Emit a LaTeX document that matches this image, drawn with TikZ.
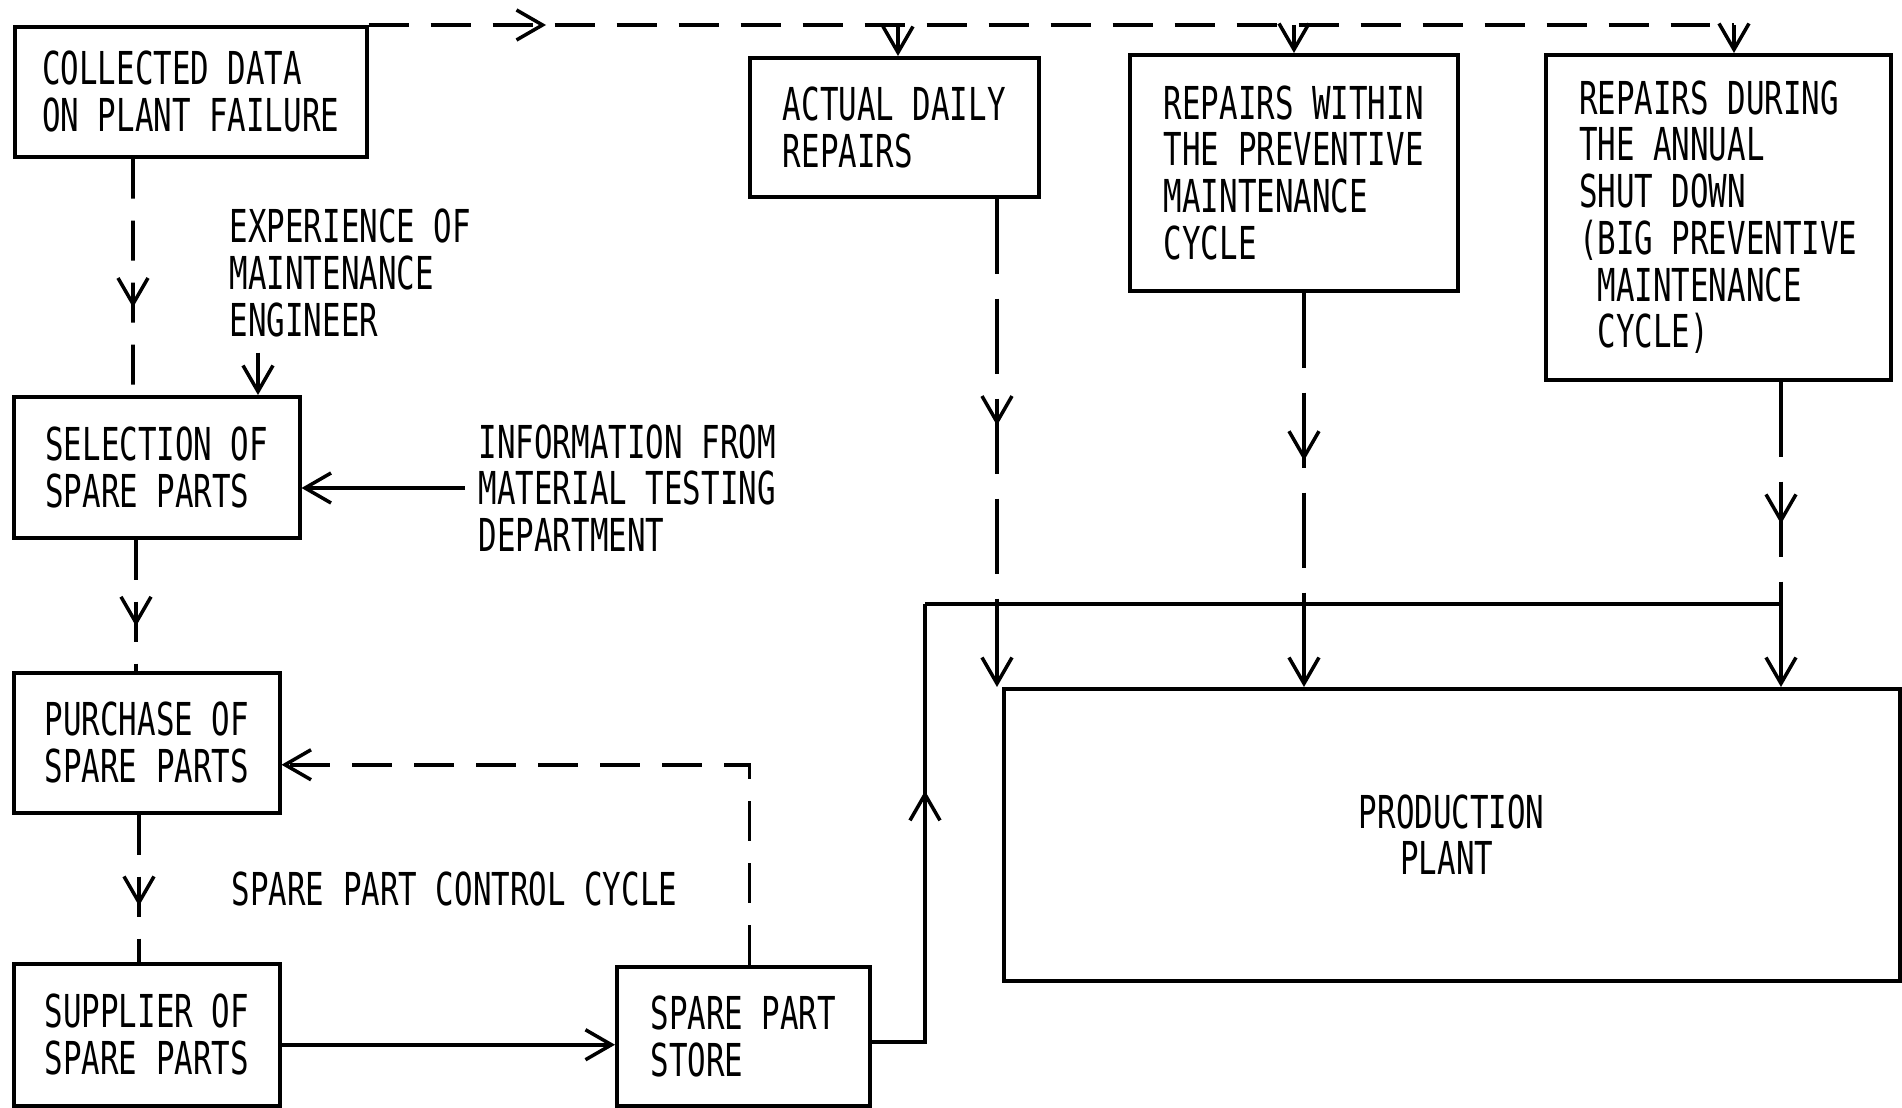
\documentclass[tikz,border=0pt]{standalone}
\usepackage{fontspec}
\newfontfamily\plotfont[FakeStretch=0.68]{DejaVu Sans Mono}
\usetikzlibrary{arrows.meta,decorations.markings}

\begin{document}
\begin{tikzpicture}[x=0.1mm,y=-0.1mm,
    font=\plotfont\fontsize{12.9}{13.3}\selectfont,
    line width=1pt,
    >={Straight Barb[length=2.6mm,width=3mm]},
    partbox/.style={draw,align=left,anchor=north west,inner sep=0pt},
    note/.style={align=left,inner sep=0pt,anchor=west},
    dashline/.style={dash pattern=on 4mm off 2.2mm},
    longdash/.style={dash pattern=on 7.5mm off 2.5mm},
    midarrow/.style={postaction={decorate,decoration={markings,
        mark=at position #1 with {\arrow{>}}}}}]

    \useasboundingbox (0,0) rectangle (1902,1108);

    % Boxes of the spare part cycle
    \node[partbox,minimum width=35.2mm,minimum height=13mm] (collect) at (13,25)
        {COLLECTED DATA\\ON PLANT FAILURE};
    \node[partbox,minimum width=28.6mm,minimum height=14.1mm] (select) at (12,395)
        {SELECTION OF\\SPARE PARTS};
    \node[partbox,minimum width=26.6mm,minimum height=14mm] (purch) at (12,671)
        {PURCHASE OF\\SPARE PARTS};
    \node[partbox,minimum width=26.6mm,minimum height=14.2mm] (supply) at (12,962)
        {SUPPLIER OF\\SPARE PARTS};
    \node[partbox,minimum width=25.3mm,minimum height=13.9mm] (store) at (615,965)
        {SPARE PART\\STORE};

    % Repair boxes
    \node[partbox,minimum width=28.9mm,minimum height=13.9mm] (actual) at (748,56)
        {ACTUAL DAILY\\REPAIRS};
    \node[partbox,minimum width=32.8mm,minimum height=23.6mm] (within) at (1128,53)
        {REPAIRS WITHIN\\THE PREVENTIVE\\MAINTENANCE\\CYCLE};
    \node[partbox,minimum width=34.5mm,minimum height=32.5mm] (during) at (1544,53)
        {REPAIRS DURING\\THE ANNUAL\\SHUT DOWN\\(BIG PREVENTIVE\\\phantom{(}MAINTENANCE\\\phantom{(}CYCLE)};
    \node[partbox,align=center,minimum width=89.6mm,minimum height=29.2mm] (plant) at (1002,687)
        {PRODUCTION\\PLANT\hspace*{1mm}};

    % Free texts
    \node[note] (exper) at (228,273) {EXPERIENCE OF\\MAINTENANCE\\ENGINEER};
    \node[note,inner xsep=1.2mm] (info) at (465,488) {INFORMATION FROM\\MATERIAL TESTING\\DEPARTMENT};
    \node[note] (cycle) at (230,889) {SPARE PART CONTROL CYCLE};

    % Left column
    \draw[dashline,midarrow=0.63] ([xshift=12mm]collect.south west) -- ([xshift=12.1mm]select.north west);
    \coordinate (expfoot) at ([xshift=3mm,yshift=-1.4mm]exper.south west);
    \draw[->] (expfoot) -- (expfoot |- select.north);
    \draw[->] (info.west) -- (info.west -| select.east);
    \draw[dashline,midarrow=0.66] ([xshift=12.4mm]select.south west) -- ([xshift=12.4mm]purch.north west);
    \draw[dashline,midarrow=0.62] ([xshift=12.7mm]purch.south west) -- ([xshift=12.7mm]supply.north west);
    \coordinate (supout) at ([yshift=-1mm]supply.east);
    \draw[->] (supout) -- (supout -| store.west);
    \coordinate (back) at ([yshift=-2.2mm]purch.east);
    \draw[dashline,->] ([xshift=0.6mm]store.north) |- (back);

    % Top line to the repair boxes
    \coordinate (topend) at (1734,25);
    \draw[dashline,midarrow=0.13] (collect.north east) -- (topend);
    \foreach \n/\x in {actual/898, within/1294, during/1734}
    {
        \coordinate (drop) at (\x,25);
        \draw[->] (drop) -- (drop |- \n.north);
    }

    % Store feeds the plant
    \coordinate (upleft) at (925,604);
    \coordinate (upright) at (1781,604);
    \coordinate (storeout) at ([yshift=-0.6mm]store.east);
    \draw[midarrow=0.62] (storeout) -| (upleft);
    \draw (upleft) -- (upright);
    \draw[->] (upright) -- (upright |- plant.north);

    % Repairs into the plant
    \coordinate (actfoot) at ([xshift=24.9mm]actual.south west);
    \draw[longdash,midarrow=0.56] (actfoot) -- (actfoot |- upleft);
    \draw[->] (actfoot |- upleft) -- (actfoot |- plant.north);
    \coordinate (withfoot) at ([xshift=17.6mm]within.south west);
    \draw[longdash,midarrow=0.54] (withfoot) -- (withfoot |- upleft);
    \draw[->] (withfoot |- upleft) -- (withfoot |- plant.north);
    \draw[longdash,midarrow=0.64] (upright |- during.south) -- (upright);

\end{tikzpicture}
\end{document}
